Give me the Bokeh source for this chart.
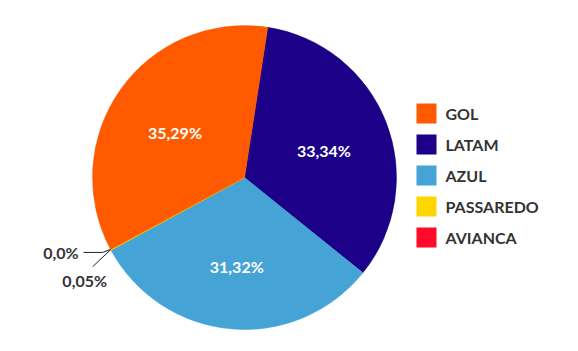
import math
from bokeh.plotting import figure
from bokeh.models import ColumnDataSource
from bokeh.core.properties import value
from bokeh.embed import file_html
from bokeh.resources import INLINE

# ---- data ----
companies = ["GOL", "LATAM", "AZUL", "PASSAREDO", "AVIANCA"]
shares = [35.29, 33.34, 31.32, 0.05, 0.0]
share_labels = ["35,29%", "33,34%", "31,32%", "0,05%", "0,0%"]
colors = ["#FF5A00", "#1C0088", "#45A3D6", "#FFD500", "#FF0A2A"]
# drawing order clockwise from the top
pie_order = ["LATAM", "AZUL", "PASSAREDO", "AVIANCA", "GOL"]

W, H = 578, 351
CX, CY, R = 244, H - 177, 152
START = 8.8  # degrees clockwise from 12 o'clock

p = figure(width=W, height=H, x_range=(0, W), y_range=(0, H),
           output_backend="svg", toolbar_location=None, min_border=0)
p.axis.visible = False
p.grid.visible = False
p.outline_line_color = None
p.background_fill_color = "white"
p.border_fill_color = "white"

total = sum(shares)
theta = START
starts, ends, mids, cols, names, spans = [], [], [], [], [], []
for name in pie_order:
    i = companies.index(name)
    span = shares[i] / total * 360.0
    starts.append(math.radians(90 - theta))
    ends.append(math.radians(90 - theta - span))
    mids.append(theta + span / 2)
    cols.append(colors[i])
    names.append(name)
    spans.append(span)
    theta += span

keep = [k for k in range(len(names)) if spans[k] > 0]
src = ColumnDataSource(dict(s=[starts[k] for k in keep], e=[ends[k] for k in keep],
                            c=[cols[k] for k in keep],
                            lw=[0.5 if spans[k] > 1 else 1.2 for k in keep]))
p.wedge(x=CX, y=CY, radius=R, start_angle="s", end_angle="e", direction="clock",
        fill_color="c", line_color="c", line_width="lw", source=src)

# inner labels for the big slices
lx, ly, lt = [], [], []
for name, m in zip(names, mids):
    i = companies.index(name)
    if shares[i] > 5:
        rr = R * 0.56
        lx.append(CX + rr * math.sin(math.radians(m)))
        ly.append(CY + rr * math.cos(math.radians(m)) - 4)
        lt.append(share_labels[i])
p.text(x=lx, y=ly, text=lt, text_color="white", text_font=value("Lato"),
       text_font_style="bold", text_font_size="16px",
       text_align="center", text_baseline="middle")

# outside labels for the tiny slices
for name, m in zip(names, mids):
    i = companies.index(name)
    if shares[i] > 5:
        continue
    ex = CX + R * math.sin(math.radians(m))
    ey = CY + R * math.cos(math.radians(m))
    if name == "AVIANCA":
        xs = [ex, ex - 8, ex - 27]
        ys = [ey, ey - 3, ey - 3]
        p.line(xs, ys, line_color="#222222", line_width=1)
        p.text(x=[ex - 32], y=[ey - 3], text=[share_labels[i]], text_color="#333333",
               text_font=value("Lato"), text_font_size="16px", text_font_style="bold",
               text_align="right", text_baseline="middle")
    else:
        xs = [ex, ex - 18]
        ys = [ey, ey - 17]
        p.line(xs, ys, line_color="#222222", line_width=1)
        p.text(x=[ex - 26], y=[ey - 31], text=[share_labels[i]], text_color="#333333",
               text_font=value("Lato"), text_font_size="16px", text_font_style="bold",
               text_align="center", text_baseline="middle")

# legend
LX, LY0, STEP = 426, H - 113, 31
leg_y = [LY0 - k * STEP for k in range(len(companies))]
p.rect(x=[LX] * len(companies), y=leg_y, width=20, height=20,
       fill_color=colors, line_color=None)
p.text(x=[LX + 19] * len(companies), y=leg_y, text=companies, text_color="#333333",
       text_font=value("Lato"), text_font_style="bold", text_font_size="16px",
       text_align="left", text_baseline="middle")

open("out.html", "w").write(file_html(p, INLINE))
